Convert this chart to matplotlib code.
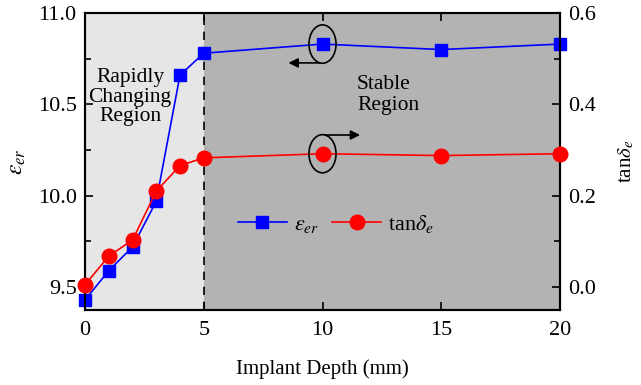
import matplotlib
matplotlib.use("Agg")
import matplotlib.pyplot as plt
from matplotlib.patches import Ellipse
from matplotlib.ticker import MultipleLocator, FormatStrFormatter

plt.rcParams['font.family'] = ['Liberation Serif', 'DejaVu Serif']
plt.rcParams['mathtext.fontset'] = 'stix'

depth = [0, 1, 2, 3, 4, 5, 10, 15, 20]
eps_er = [9.43, 9.59, 9.72, 9.97, 10.66, 10.78, 10.83, 10.80, 10.83]
tan_de = [0.005, 0.068, 0.103, 0.21, 0.266, 0.283, 0.292, 0.288, 0.292]

fig = plt.figure(figsize=(6.41, 3.85), dpi=100)
ax = fig.add_axes([85/641, 1-310/385, 475/641, 297/385])
ax2 = ax.twinx()

ax.set_xlim(0, 20)
ax.set_ylim(9.375, 11.0)
ax2.set_ylim(-0.05, 0.6)

ax.axvspan(0, 5, color='#e6e6e6', zorder=0, lw=0)
ax.axvspan(5, 20, color='#b3b3b3', zorder=0, lw=0)
ax.axvline(5, color='black', ls=(0, (5, 4)), lw=1.2, zorder=1)

l1, = ax.plot(depth, eps_er, color='blue', marker='s', ms=9, lw=1.2, zorder=3,
              clip_on=False)
l2, = ax2.plot(depth, tan_de, color='red', marker='o', ms=10.5, lw=1.2, zorder=3,
               clip_on=False)
ax2.patch.set_visible(False)

tfs = 16
fs = 15
ax.xaxis.set_major_locator(MultipleLocator(5))
ax.yaxis.set_major_locator(MultipleLocator(0.5))
ax.yaxis.set_minor_locator(MultipleLocator(0.25))
ax2.yaxis.set_major_locator(MultipleLocator(0.2))
ax2.yaxis.set_minor_locator(MultipleLocator(0.1))
ax.yaxis.set_major_formatter(FormatStrFormatter('%.1f'))
ax2.yaxis.set_major_formatter(FormatStrFormatter('%.1f'))
ax.tick_params(axis='both', which='both', direction='in', labelsize=tfs)
ax.tick_params(axis='x', top=True, length=6, width=1.2, pad=8)
ax.tick_params(axis='y', which='major', length=6, width=1.2, pad=6)
ax.tick_params(axis='y', which='minor', length=4, width=1.2)
ax.tick_params(axis='y', right=False)
ax2.tick_params(axis='y', which='both', direction='in', labelsize=tfs, width=1.2)
ax2.tick_params(axis='y', which='major', length=6, pad=6)
ax2.tick_params(axis='y', which='minor', length=4)
for a in (ax, ax2):
    for s in a.spines.values():
        s.set_linewidth(1.5)

ax.set_xlabel('Implant Depth (mm)', fontsize=fs, labelpad=14)
ax.set_ylabel(r'$\varepsilon_{er}$', fontsize=17, labelpad=7)
ax2.set_ylabel(r'tan$\delta_e$', fontsize=fs, labelpad=15)

ax.text(1.9, 10.54, 'Rapidly\nChanging\nRegion', ha='center', va='center',
        fontsize=15.5, linespacing=1.05, zorder=4)
ax.text(11.45, 10.55, 'Stable\nRegion', ha='left', va='center',
        fontsize=15.5, linespacing=1.15, zorder=4)

# annotation ellipses and arrows
ax.add_patch(Ellipse((10, 10.83), 1.14, 0.21, fill=False, ec='black', lw=1.2, zorder=4))
ax.annotate('', xy=(8.45, 10.727), xytext=(10.0, 10.727),
            arrowprops=dict(arrowstyle='-|>', color='black', lw=1.2, mutation_scale=14),
            zorder=4)
ax2.add_patch(Ellipse((10, 0.292), 1.14, 0.0835, fill=False, ec='black', lw=1.2, zorder=4))
ax2.annotate('', xy=(11.7, 0.333), xytext=(10.0, 0.333),
             arrowprops=dict(arrowstyle='-|>', color='black', lw=1.2, mutation_scale=14),
             zorder=4)

ax2.legend([l1, l2], [r'$\varepsilon_{er}$', r'tan$\delta_e$'], ncol=2, frameon=False,
           fontsize=16, loc='center left', bbox_to_anchor=(0.28, 0.29),
           handlelength=2.2, columnspacing=0.6, handletextpad=0.3)

fig.savefig('out.png', dpi=100)
